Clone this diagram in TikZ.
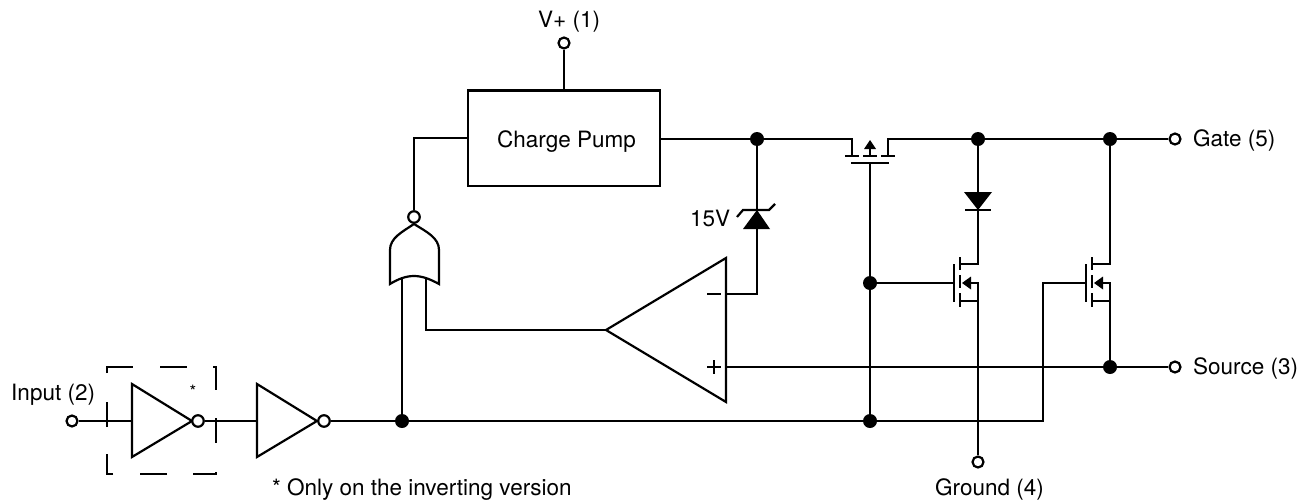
\documentclass[tikz,border=0pt]{standalone}
\usepackage{fontspec}
\setmainfont{TeX Gyre Heros}
\begin{document}
\begin{tikzpicture}[x=1pt,y=-1pt,line join=miter,
  wire/.style={line width=2.2pt},
  thinwire/.style={line width=1.1pt},
  dot/.style={circle,fill=black,draw=none,inner sep=0pt,minimum size=14pt},
  bubble/.style={circle,fill=white,draw=black,line width=2.2pt,inner sep=0pt,minimum size=11.5pt},
  term/.style={circle,fill=white,draw=black,line width=2.2pt,inner sep=0pt,minimum size=11pt},
  lbl/.style={font=\fontsize{22.5}{26}\selectfont,inner sep=0pt,anchor=base west},
  boxnode/.style={draw=black,line width=2.2pt,inner sep=0pt,minimum width=191.5pt,minimum height=95.5pt},
  nmos/.pic={
    \draw[wire] (-24,-19) -- (-24,19);
    \draw[wire] (-18,-26) -- (-18,-13) (-18,-8) -- (-18,5) (-18,10) -- (-18,24);
    \draw[wire,line cap=rect] (-18,-19) -- (0,-19) (-18,18) -- (0,18) (-7,0) -- (0,0);
    \fill (-16,0) -- (-7,-6.5) -- (-7,6.5) -- cycle;
  }]
\useasboundingbox (0,0) rectangle (1309,501);
\fill[white] (0,0) rectangle (1309,501);

% terminals
\node[term] (vp) at (564,43) {};
\node[term] (gatet) at (1175,139) {};
\node[term] (srct) at (1175,367) {};
\node[term] (gndt) at (978,462) {};
\node[term] (int) at (72,421) {};

% junctions
\node[dot] (jA) at (757,139) {};
\node[dot] (jB) at (978,139) {};
\node[dot] (jC) at (1110,139) {};
\node[dot] (jD) at (870,283) {};
\node[dot] (jE) at (1110,367) {};
\node[dot] (jF) at (402,421) {};
\node[dot] (jG) at (870,421) {};

% charge pump
\node[boxnode] (cp) at (564,138.2) {};
\draw[wire] (vp) -- (cp.north -| vp);

% input inverters
\draw[wire] (132,384) -- (132,457) -- (192,421) -- cycle;
\draw[wire] (257,384) -- (257,457) -- (317,421) -- cycle;
\node[bubble] (b1) at (198,421) {};
\node[bubble] (b2) at (324,421) {};
\coordinate (i1) at (132,421);
\coordinate (i2) at (257,421);
\draw[wire] (int) -- (i1);
\draw[wire] (b1) -- (i2);
\draw[wire] (b2) -- (jF);
\draw[wire] (jF) -- (jG);

% dashed frame
\draw[thinwire] (107,373) -- (107,367) -- (133,367)
  (160,367) -- (187,367) (213,367) -- (216,367) -- (216,390)
  (216,418) -- (216,443) (216,472) -- (216,474) -- (193,474)
  (167,474) -- (140,474) (113,474) -- (107,474) -- (107,454)
  (107,427) -- (107,402);
\node[font=\fontsize{17}{20}\selectfont,inner sep=0pt] (star) at (193,391) {*};

% NOR gate
\node[bubble] (nor) at (414,217) {};
\coordinate (norTip) at (414,224);
\draw[wire,line join=miter] (390,284) -- (390,250) .. controls (390,238) and (402,232) .. (norTip)
  .. controls (427,232) and (439,238) .. (439,250) -- (439,284)
  .. controls (430,279) and (422,276) .. (414,276)
  .. controls (406,276) and (398,279) .. (390,284) -- cycle;
\coordinate (norInA) at (402,279);
\coordinate (norInB) at (426,279);
\draw[wire] (nor) |- (cp.west);
\draw[wire] (jF) -- (norInA);

% op amp
\coordinate (oaTip) at (606,330);
\coordinate (oaMinus) at (726,294);
\coordinate (oaPlus) at (726,367);
\draw[wire] (oaTip) -- (726,258) -- (726,402) -- cycle;
\draw[wire] (707,294) -- (721,294);
\draw[wire] (707,367) -- (721,367) (714,360) -- (714,374);
\draw[wire] (norInB) |- (oaTip);

% zener
\coordinate (zen) at (757,210);
\fill (757,210) -- (770,229) -- (743,229) -- cycle;
\draw[wire] (737,217) -- (743,210) -- (769,210) -- (775,204);
\draw[wire] (jA) -- (zen);
\draw[wire] (zen) |- (oaMinus);

% main rail
\coordinate (pmosL) at (852,139);
\coordinate (pmosR) at (888,139);
\draw[wire] (cp.east |- jA) -- (pmosL) -- (852,156);
\draw[wire] (845,156) -- (859,156);
\draw[wire] (863,156) -- (877,156);
\draw[wire] (881,156) -- (895,156);
\draw[wire] (888,156) -- (pmosR) -- (jB);
\draw[wire] (jB) -- (jC);
\draw[wire] (jC) -- (gatet);
\draw[wire] (851,163) -- (889,163);
\draw[wire] (870,149) -- (870,156);
\fill (870,140) -- (876,149) -- (864,149) -- cycle;
\coordinate (pgate) at (870,163);
\draw[wire] (pgate) -- (jD);
\draw[wire] (jD) -- (jG);

% diode
\fill (978,210) -- (964,192) -- (992,192) -- cycle;
\draw[wire] (965,210) -- (991,210);
\coordinate (d1) at (978,264);
\draw[wire] (jB) -- (d1);

% NMOS 1
\pic at (978,283) {nmos};
\draw[wire] (jD) -- (954,283);
\draw[wire] (978,283) -- (gndt);

% NMOS 2
\pic at (1110,283) {nmos};
\coordinate (g2) at (1043,283);
\draw[wire] (jC) -- (1110,264);
\draw[wire] (1110,283) -- (jE);
\draw[wire] (jG) -| (g2) -- (1086,283);

% source rail
\draw[wire] (oaPlus) -- (jE);
\draw[wire] (jE) -- (srct);

% labels
\node[lbl] (cpt) at (497,147) {Charge Pump};
\node[lbl] (zl) at (690,226) {15V};
\node[lbl] (lvp) at (538,27) {V+ (1)};
\node[lbl] (lg) at (1193,146) {Gate (5)};
\node[lbl] (ls) at (1193,374) {Source (3)};
\node[lbl] (li) at (11,400) {Input (2)};
\node[lbl] (ln) at (272,495) {* Only on the inverting version};
\node[lbl,anchor=base east] (lgnd) at (1044,495) {Ground (4)};
\end{tikzpicture}
\end{document}
